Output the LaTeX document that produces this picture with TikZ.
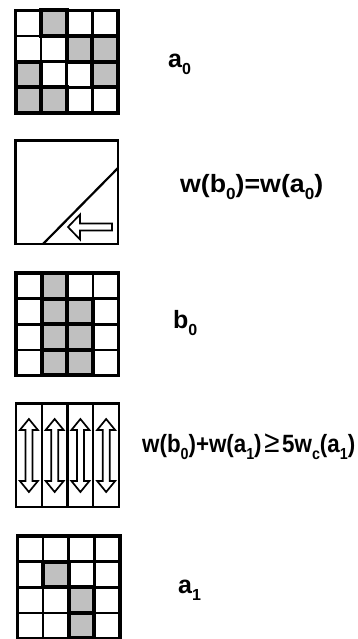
\documentclass[tikz,border=0pt]{standalone}
\usepackage{fontspec}
\setmainfont{Liberation Sans}
\definecolor{cellgray}{RGB}{192,192,192}
\newcommand\mygrid[3]{%
  \foreach \i in {0,...,3}{\foreach \j in {0,...,3}{%
    \draw[cellw] ({#1+\i*25.6},{#2+\j*25.6}) rectangle ++(25.6,25.6);}}
  \foreach \i/\j in {#3}{%
    \draw[cellg] ({#1+\i*25.6},{#2+\j*25.6}) rectangle ++(25.6,25.6);}
  \draw[frame] (#1,#2) rectangle ++(102.4,102.4);}
\newcommand\varrow[3]{%
  \draw[harrow] (#1,#2) -- ({#1+9},{#2+11}) -- ({#1+3.5},{#2+11}) -- ({#1+3.5},{#3-11})
    -- ({#1+9},{#3-11}) -- (#1,#3) -- ({#1-9},{#3-11}) -- ({#1-3.5},{#3-11})
    -- ({#1-3.5},{#2+11}) -- ({#1-9},{#2+11}) -- cycle;}
\newcommand\sbs[1]{\raisebox{-7pt}{\fontsize{16}{16}\selectfont #1}}
\newcommand\lab{\fontsize{25}{25}\selectfont\bfseries}
\begin{document}
\begin{tikzpicture}[x=1pt,y=-1pt,
  cellw/.style={draw=black,line width=2.6pt,fill=white},
  cellg/.style={draw=black,line width=4pt,fill=cellgray},
  frame/.style={draw=black,line width=3.4pt},
  boxline/.style={draw=black,line width=2.6pt},
  thinline/.style={draw=black,line width=2.2pt},
  harrow/.style={draw=black,line width=1.7pt,line join=miter,fill=white},
  txt/.style={inner sep=0pt,anchor=base west}]
\useasboundingbox (0,0) rectangle (357,639);
\begin{scope}
\clip (0,0) rectangle (357,639);
% a0 grid
\mygrid{15.5}{10.5}{1/0,2/1,3/1,0/2,3/2,0/3,1/3}
% box 2
\draw[boxline] (15.5,140.5) rectangle (118,244);
\draw[thinline] (43,244) -- (118,168);
\draw[harrow] (68,227) -- (80,214.5) -- (80,223.5) -- (112,223.5) -- (112,230.5) -- (80,230.5) -- (80,239.5) -- cycle;
% b0 grid
\mygrid{16}{273}{1/0,1/1,2/1,1/2,2/2,1/3,2/3}
% box 4
\draw[boxline] (16,403.5) rectangle (119,507);
\foreach \k in {1,2,3}{\draw[thinline] ({16+\k*25.75},403.5) -- ({16+\k*25.75},507);}
\foreach \k in {0,1,2,3}{\pgfmathsetmacro\cx{16+12.9+\k*25.75}\varrow{\cx}{419}{492}}
% a1 grid
\mygrid{17.5}{536}{1/1,2/2,2/3}
\end{scope}
% labels
\node[txt] (ta0) at (168,68) {\lab a\sbs{0}};
\node[txt] (tw1) at (180,192) {\resizebox{143pt}{\height}{\lab w(b\sbs{0})=w(a\sbs{0})}};
\node[txt] (tb0) at (173,328) {\lab b\sbs{0}};
\node[txt] (tw2) at (142,452) {\resizebox{213pt}{\height}{\lab w(b\sbs{0})+w(a\sbs{1})\hspace{3pt}{\mdseries\fontsize{31}{31}\selectfont ≥}\hspace{3pt}5w\sbs{c}(a\sbs{1})}};
\node[txt] (ta1) at (178,593) {\lab a\sbs{1}};
\end{tikzpicture}
\end{document}
